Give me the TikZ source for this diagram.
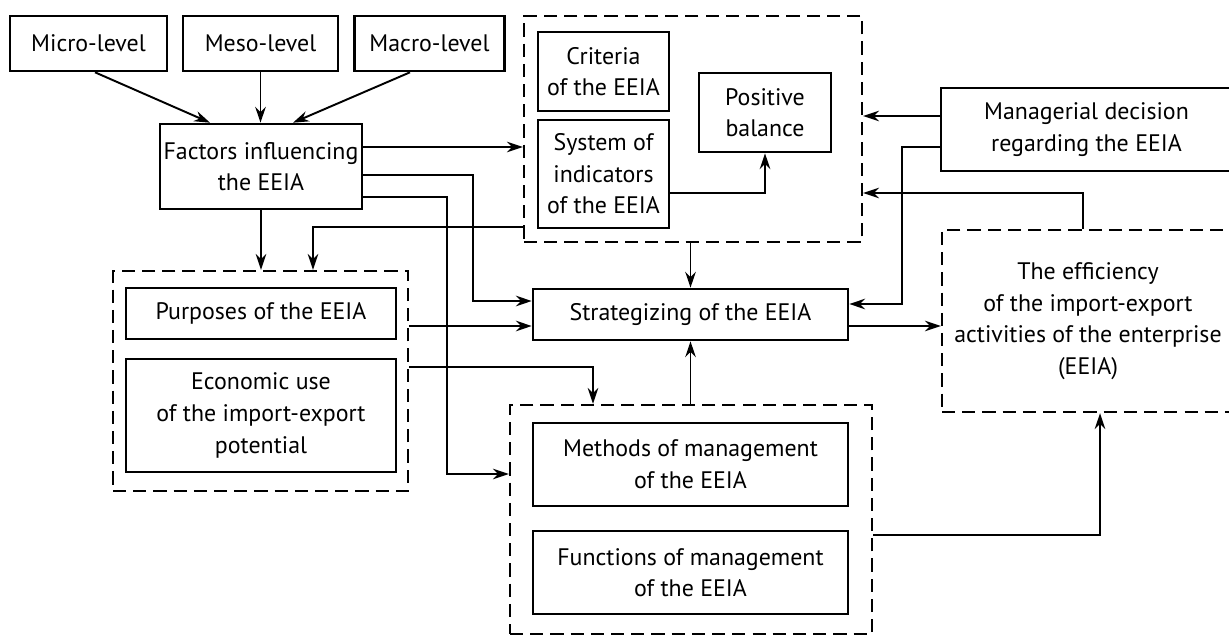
\documentclass[tikz,border=0pt]{standalone}
\usepackage{fontspec}
\setmainfont{PT Sans}
\usetikzlibrary{arrows.meta, positioning, calc}

\begin{document}
\begin{tikzpicture}[
    x=0.02cm, y=-0.02cm,
    every node/.style={font=\fontsize{13.6}{18}\selectfont, align=center, inner sep=0pt},
    box/.style={draw, line width=1.5pt, minimum height=1.02cm},
    group/.style={draw, line width=1.4pt, dash pattern=on 7.5pt off 4pt},
    link/.style={-{Stealth[length=9pt, width=6pt]}, line width=1.1pt},
    wire/.style={line width=1.1pt}
]
    \useasboundingbox (0,0) rectangle (1229,635);

    % --- levels ---
    \node[box, minimum width=3.14cm, minimum height=1.10cm] (micro) at (88.5, 43.5) {Micro-level};
    \node[box, minimum width=3.10cm, minimum height=1.10cm] (meso) at (260.5, 43.5) {Meso-level};
    \node[box, minimum width=3.00cm, minimum height=1.10cm] (macro) at (429.5, 43.5) {Macro-level};
    \node[box, minimum width=4.04cm, minimum height=1.70cm] (factors) at (261, 166.5) {Factors influencing\\the EEIA};

    % --- criteria group ---
    \node[group, minimum width=6.76cm, minimum height=4.52cm] (topgrp) at (693, 129) {};
    \node[box, minimum width=2.62cm, minimum height=1.58cm] (criteria) at (603.5, 71.5) {Criteria\\of the EEIA};
    \node[box, minimum width=2.62cm, minimum height=2.16cm] (system) at (603.5, 174) {System of\\indicators\\of the EEIA};
    \node[box, minimum width=2.64cm, minimum height=1.58cm] (positive) at (765, 112.5) {Positive\\balance};

    % --- right side ---
    \node[box, minimum width=5.82cm, minimum height=1.66cm] (managerial) at (1086.5, 129.5) {Managerial decision\\regarding the EEIA};
    \node[group, minimum width=5.84cm, minimum height=3.64cm] (efficiency) at (1088, 321) {The efficiency\\of the import-export\\activities of the enterprise\\(EEIA)};

    % --- purposes group ---
    \node[group, minimum width=5.90cm, minimum height=4.40cm] (leftgrp) at (260.5, 381) {};
    \node[box, minimum width=5.40cm] (purposes) at (261, 313.5) {Purposes of the EEIA};
    \node[box, minimum width=5.40cm, minimum height=2.26cm] (economic) at (261, 415.5) {Economic use\\of the import-export\\potential};

    % --- centre ---
    \node[box, minimum width=6.30cm] (strat) at (690.5, 314.5) {Strategizing of the EEIA};

    % --- management group ---
    \node[group, minimum width=7.24cm, minimum height=4.58cm] (botgrp) at (691, 519.5) {};
    \node[box, minimum width=6.30cm, minimum height=1.66cm] (methods) at (690.5, 464.5) {Methods of management\\of the EEIA};
    \node[box, minimum width=6.30cm, minimum height=1.66cm] (functions) at (690.5, 572.5) {Functions of management\\of the EEIA};

    % levels into factors
    \draw[link] (micro.south -| 95,0) -- (factors.north -| 210,0);
    \draw[link] (meso.south) -- (factors.north -| meso.south);
    \draw[link] (macro.south -| 410,0) -- (factors.north -| 293,0);

    % factors outwards
    \draw[link] (factors.east |- 0,147) -- (topgrp.west |- 0,147);
    \draw[link] (factors.east |- 0,175) -- (473,175) -- (473,301) -- (strat.west |- 0,301);
    \draw[link] (factors.east |- 0,197) -- (447,197) -- (447,474) -- (botgrp.west |- 0,474);
    \draw[link] (factors.south) -- (leftgrp.north -| factors.south);
    \draw[link] (topgrp.west |- 0,227) -- (313,227) -- (leftgrp.north -| 313,0);

    % purposes group outwards
    \draw[link] (leftgrp.east |- 0,326) -- (strat.west |- 0,326);
    \draw[link] (leftgrp.east |- 0,367) -- (593,367) -- (botgrp.north -| 593,0);

    % into strategizing
    \draw[link] (topgrp.south -| strat.north) -- (strat.north);
    \draw[link] (botgrp.north -| strat.south) -- (strat.south);
    \draw[link] (system.east |- 0,193) -| (positive.south);

    % right side
    \draw[link] (managerial.west |- 0,116) -- (topgrp.east |- 0,116);
    \draw[link] (managerial.west |- 0,147) -- (902,147) -- (902,304) -- (strat.east |- 0,304);
    \draw[link] (efficiency.north -| 1083,0) -- (1083,193) -- (topgrp.east |- 0,193);
    \draw[link] (strat.east |- 0,326) -- (efficiency.west |- 0,326);
    \draw[link] (botgrp.east |- 0,535) -- (1100,535) -- (efficiency.south -| 1100,0);

\end{tikzpicture}
\end{document}
